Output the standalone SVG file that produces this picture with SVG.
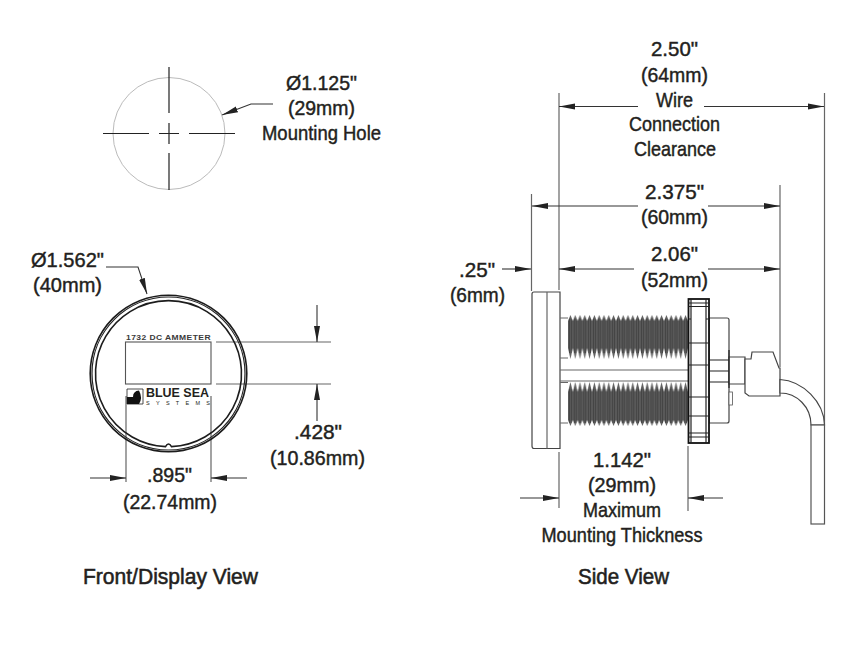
<svg xmlns="http://www.w3.org/2000/svg" width="850" height="650" viewBox="0 0 850 650">
<style>
text{font-family:"Liberation Sans",Arial,sans-serif;font-size:21px;fill:#231f20;text-anchor:middle;stroke:#231f20;stroke-width:.45}
.b{font-size:21.500px;stroke-width:.55}
.d{fill:none;stroke:#333;stroke-width:1.1}
.e{fill:none;stroke:#666;stroke-width:1.2}
.o{fill:#fff;stroke:#444;stroke-width:1.2}
.k{fill:none;stroke:#1c1c1c;stroke-width:1.6}
.c{fill:none;stroke:#222;stroke-width:1.2}
</style>
<defs>
<marker id="a" markerUnits="userSpaceOnUse" markerWidth="17" markerHeight="8" refX="16" refY="4" orient="auto-start-reverse"><path d="M0 1 16 4 0 7z" fill="#222"/></marker>
<pattern id="tu" patternUnits="userSpaceOnUse" x="568" y="315" width="4.800" height="44">
<path d="M0 6 2.400 0 4.800 6V33L2.400 44 0 33z" fill="#5a5a5a"/><path d="M1.400 4V38M3.400 4V38" stroke="#2c2c2c" stroke-width=".5"/>
</pattern>
<pattern id="tl" patternUnits="userSpaceOnUse" x="568" y="382" width="4.800" height="44">
<path d="M0 10 2.400 0 4.800 10V38L2.400 44 0 38z" fill="#5a5a5a"/><path d="M1.400 7V41M3.400 7V41" stroke="#2c2c2c" stroke-width=".5"/>
</pattern>
</defs>

<g id="connectors">
<path class="e" d="M559 93V290M824.500 93V425M780 185V367M531.500 194V291M559 452V508M688 446V511M126 396V482M211 396V482M216 342H331M216 384H331"/>
<path class="d" marker-start="url(#a)" d="M559 106.500H638"/>
<path class="d" marker-end="url(#a)" d="M704 106.500H824"/>
<path class="d" marker-start="url(#a)" d="M532 206H638"/>
<path class="d" marker-end="url(#a)" d="M708 206H780"/>
<path class="d" marker-start="url(#a)" d="M559 269H634"/>
<path class="d" marker-end="url(#a)" d="M708 269H780"/>
<path class="d" marker-end="url(#a)" d="M502 269H531"/>
<path class="d" marker-end="url(#a)" d="M520 498H559"/>
<path class="d" marker-end="url(#a)" d="M723 498H688"/>
<path class="d" marker-end="url(#a)" d="M90 478H126"/>
<path class="d" marker-end="url(#a)" d="M247 478H211"/>
<path class="d" marker-end="url(#a)" d="M317 305V342"/>
<path class="d" marker-end="url(#a)" d="M317 421V384"/>
<path class="d" marker-end="url(#a)" d="M273 104H251L222 115"/>
<path class="d" marker-end="url(#a)" d="M106 267H138L147 294"/>
</g>

<g id="mounting-hole">
<circle cx="169" cy="133.500" r="56" fill="none" stroke="#bbb" stroke-width="1"/>
<path class="c" d="M169 67V113M169 123V144M169 153V190M103 133.500H149M159 133.500H179M189 133.500H235"/>
</g>

<g id="front-view">
<circle cx="168.500" cy="373.500" r="78.300" class="k"/>
<circle cx="168.500" cy="373.500" r="76.500" class="c" stroke-width="1"/>
<path class="k" d="M165.500 446.600A73 73 0 1 1 171.500 446.600Q168.500 441.500 165.500 446.600z"/>
<rect x="125.500" y="342" width="85.500" height="42" fill="none" stroke="#555" stroke-width="1.100"/>
<text x="168.500" y="340" textLength="85" lengthAdjust="spacingAndGlyphs" style="font-size:7.800px;font-weight:bold;letter-spacing:.4px;stroke:none;fill:#3a3a3a">1732 DC AMMETER</text>
<path d="M127 389H143V404H127z" fill="#fff" stroke="#222" stroke-width=".8"/>
<path d="M127 397H133Q133 391 139 390.500Q143 398 139 404H127z" fill="#111"/>
<text x="177.500" y="397" textLength="63" lengthAdjust="spacingAndGlyphs" style="font-size:12px;font-weight:bold;stroke:none">BLUE SEA</text>
<text x="178" y="404.500" textLength="64" style="font-size:5.500px;stroke:none">SYSTEMS</text>
</g>

<g id="side-view">
<path class="o" d="M534 292H560V448.500H534Q532 448.500 532 446V294Q532 292 534 292z"/>
<path class="e" d="M547 292V448.500"/>
<path class="e" d="M560 318H568M560 358H568M560 370H689M560 381H689M560 382.500H568M560 423H568"/>
<rect x="568" y="315" width="121" height="44" fill="url(#tu)"/>
<rect x="568" y="382" width="121" height="44" fill="url(#tl)"/>
<path class="o" d="M709 318H727Q729 318 729 320V421Q729 423 727 423H709z"/>
<path class="c" d="M709 360H729M709 371H729M709 382H729" stroke="#666"/>
<rect x="729" y="392" width="3.500" height="13" fill="#fff" stroke="#555" stroke-width=".8"/>
<path d="M729 357H745V384H729z" fill="#fff" stroke="#444" stroke-width="1.200"/>
<path class="c" d="M729 350V388" stroke-width="2"/>
<rect x="688.500" y="299" width="20.500" height="144" fill="#fff" stroke="#111" stroke-width="1.800"/>
<path class="c" d="M691 299V443M706 299V443M688.500 303H709M688.500 306.500H709M688.500 319H691M706 319H709M688.500 343H709M688.500 365H709M688.500 397H709M688.500 416H709M688.500 433H709M688.500 437H709" stroke-width="1.300"/>
<path class="o" d="M745 359H751L752 352H773L779 368H780V396H749L745 393z"/>
<path class="o" d="M780 379.500C803 381 824 402 824.500 425H811C811 407 797 393 780 393z" stroke="#555"/>
<rect x="811" y="425" width="13.500" height="99" fill="#fff" stroke="#555" stroke-width="1.200"/>
</g>

<g id="labels">
<text x="321.500" y="90" textLength="71" lengthAdjust="spacingAndGlyphs">Ø1.125"</text>
<text x="321.500" y="115" textLength="67" lengthAdjust="spacingAndGlyphs">(29mm)</text>
<text x="321.500" y="140" textLength="119" lengthAdjust="spacingAndGlyphs">Mounting Hole</text>
<text x="67.500" y="267" textLength="73" lengthAdjust="spacingAndGlyphs">Ø1.562"</text>
<text x="67.500" y="292" textLength="69" lengthAdjust="spacingAndGlyphs">(40mm)</text>
<text x="318" y="439" textLength="48" lengthAdjust="spacingAndGlyphs">.428"</text>
<text x="317.500" y="465" textLength="95" lengthAdjust="spacingAndGlyphs">(10.86mm)</text>
<text x="169.500" y="482" textLength="45" lengthAdjust="spacingAndGlyphs">.895"</text>
<text x="170" y="509" textLength="94" lengthAdjust="spacingAndGlyphs">(22.74mm)</text>
<text class="b" x="170.500" y="584" textLength="175" lengthAdjust="spacingAndGlyphs">Front/Display View</text>
<text x="674.500" y="56" textLength="47" lengthAdjust="spacingAndGlyphs">2.50"</text>
<text x="674.500" y="82" textLength="67" lengthAdjust="spacingAndGlyphs">(64mm)</text>
<text x="674.500" y="107" textLength="37" lengthAdjust="spacingAndGlyphs">Wire</text>
<text x="674.500" y="131" textLength="91" lengthAdjust="spacingAndGlyphs">Connection</text>
<text x="675" y="156" textLength="82" lengthAdjust="spacingAndGlyphs">Clearance</text>
<text x="674.500" y="199" textLength="59" lengthAdjust="spacingAndGlyphs">2.375"</text>
<text x="674.500" y="224" textLength="67" lengthAdjust="spacingAndGlyphs">(60mm)</text>
<text x="674.500" y="261" textLength="47" lengthAdjust="spacingAndGlyphs">2.06"</text>
<text x="674.500" y="287" textLength="67" lengthAdjust="spacingAndGlyphs">(52mm)</text>
<text x="477" y="277" textLength="36" lengthAdjust="spacingAndGlyphs">.25"</text>
<text x="477.500" y="302" textLength="55" lengthAdjust="spacingAndGlyphs">(6mm)</text>
<text x="622" y="467" textLength="58" lengthAdjust="spacingAndGlyphs">1.142"</text>
<text x="622" y="492" textLength="68" lengthAdjust="spacingAndGlyphs">(29mm)</text>
<text x="622" y="517" textLength="78" lengthAdjust="spacingAndGlyphs">Maximum</text>
<text x="622" y="542" textLength="161" lengthAdjust="spacingAndGlyphs">Mounting Thickness</text>
<text class="b" x="623.500" y="584" textLength="91" lengthAdjust="spacingAndGlyphs">Side View</text>
</g>
</svg>
